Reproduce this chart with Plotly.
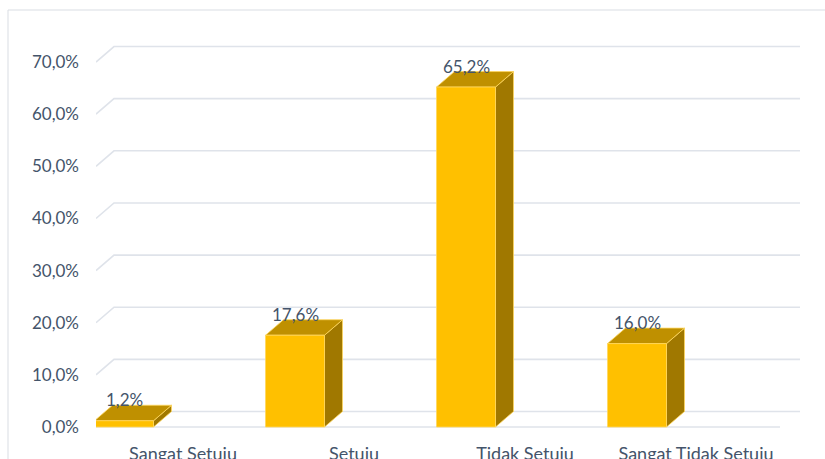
import plotly.graph_objects as go

# ---------------- data ----------------
categories = ["Sangat Setuju", "Setuju", "Tidak Setuju", "Sangat Tidak Setuju"]
values = [1.2, 17.6, 65.2, 16.0]
value_labels = ["1,2%", "17,6%", "65,2%", "16,0%"]
tick_values = [0, 10, 20, 30, 40, 50, 60, 70]
tick_labels = ["0,0%", "10,0%", "20,0%", "30,0%", "40,0%", "50,0%", "60,0%", "70,0%"]

# ---------------- geometry (pixels) ----------------
W, H = 825, 459
L_MARGIN = 96
B_MARGIN = 23
X0_PX = 124          # first category centre
STEP_PX = 171        # category spacing
Y0_PX = 427          # 0% level on front plane
PX_PER_PCT = 5.214
DEPTH_X_PX = 18
DEPTH_Y_PX = 15.5
HALF_W_PX = 29.5
CAT_LABEL_SHIFT_PX = 59
GRID_BACK_END_PX = 800
FLOOR_FRONT_END_PX = 780


def xu(px):
    return (px - X0_PX) / STEP_PX


def yu(px):
    return (Y0_PX - px) / PX_PER_PCT


x_range = [xu(L_MARGIN), xu(W)]
y_range = [yu(H - B_MARGIN), yu(0)]
DX = DEPTH_X_PX / STEP_PX
DY = DEPTH_Y_PX / PX_PER_PCT
HW = HALF_W_PX / STEP_PX

FRONT = "#FFC000"
TOP = "#BF9000"
SIDE = "#A07800"
EDGE = "#FFD75E"
GRID = "#DFE3EA"
TEXT = "#44546A"
FONT = "Lato"

fig = go.Figure()

# gridlines on left wall + back wall
xl = x_range[0]
for t in tick_values:
    fig.add_trace(go.Scatter(
        x=[xl, xl + DX, xu(GRID_BACK_END_PX)], y=[t, t + DY, t + DY],
        mode="lines", line=dict(color=GRID, width=1.6), hoverinfo="skip"))
# floor front edge
fig.add_trace(go.Scatter(
    x=[xl, xu(FLOOR_FRONT_END_PX)], y=[0, 0],
    mode="lines", line=dict(color=GRID, width=1.6), hoverinfo="skip"))

# 3D bars
for i, v in enumerate(values):
    x0, x1 = i - HW, i + HW
    # side face
    fig.add_trace(go.Scatter(
        x=[x1, x1 + DX, x1 + DX, x1, x1], y=[0, DY, v + DY, v, 0],
        mode="lines", fill="toself", fillcolor=SIDE,
        line=dict(color=EDGE, width=0.8), hoverinfo="skip"))
    # top face
    fig.add_trace(go.Scatter(
        x=[x0, x1, x1 + DX, x0 + DX, x0], y=[v, v, v + DY, v + DY, v],
        mode="lines", fill="toself", fillcolor=TOP,
        line=dict(color=EDGE, width=0.8), hoverinfo="skip"))
    # front face
    fig.add_trace(go.Scatter(
        x=[x0, x1, x1, x0, x0], y=[0, 0, v, v, 0],
        mode="lines", fill="toself", fillcolor=FRONT,
        line=dict(color=EDGE, width=0.8), hoverinfo="skip"))

# data labels
for i, (v, lab) in enumerate(zip(values, value_labels)):
    fig.add_annotation(x=i, y=v, text=lab, showarrow=False, yshift=21,
                       font=dict(family=FONT, size=17, color=TEXT))

# chart border (top + left)
fig.add_shape(type="rect", xref="paper", yref="paper",
              x0=(8 - L_MARGIN) / (W - L_MARGIN), x1=1.2,
              y0=-0.5, y1=(H - B_MARGIN - 10) / (H - B_MARGIN),
              line=dict(color="#D9DDE3", width=1), layer="below")

fig.update_layout(
    width=W, height=H,
    margin=dict(l=L_MARGIN, r=0, t=0, b=B_MARGIN),
    paper_bgcolor="white", plot_bgcolor="white",
    showlegend=False,
    xaxis=dict(range=x_range, showgrid=False, zeroline=False, showline=False,
               automargin=False,
               tickmode="array",
               tickvals=[i + CAT_LABEL_SHIFT_PX / STEP_PX for i in range(len(categories))],
               ticktext=categories, ticks="", ticklabelstandoff=5,
               tickfont=dict(family=FONT, size=18, color=TEXT)),
    yaxis=dict(range=y_range, showgrid=False, zeroline=False, showline=False,
               automargin=False,
               tickmode="array", tickvals=tick_values, ticktext=tick_labels,
               ticks="", ticklabelstandoff=16,
               tickfont=dict(family=FONT, size=17, color=TEXT)),
)

fig.write_html("out.html")
